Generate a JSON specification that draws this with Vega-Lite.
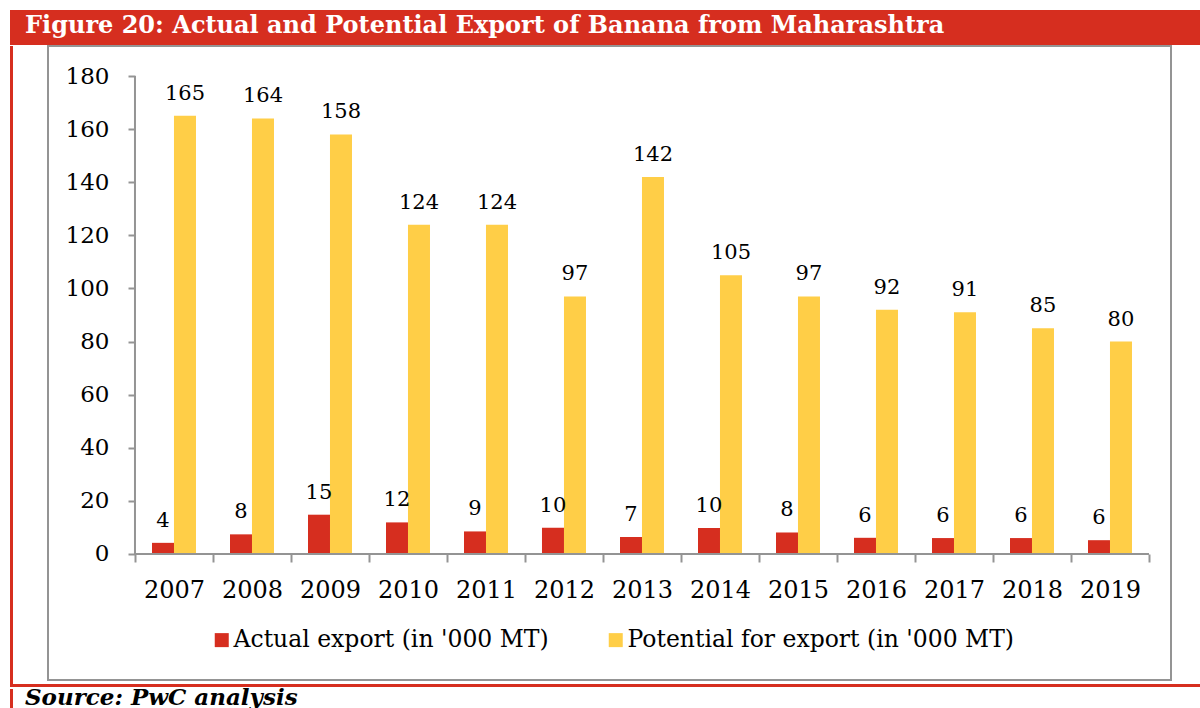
{
  "$schema": "https://vega.github.io/schema/vega-lite/v6.json",
  "padding": {"left": 10, "top": 10, "right": 0, "bottom": 0},
  "background": "white",
  "spacing": 0,
  "config": {"font": "DejaVu Serif"},
  "datasets": {
    "exports": [
      {"year": "2007", "series": "Actual export (in '000 MT)", "value": 4.2, "label": "4"},
      {"year": "2007", "series": "Potential for export (in '000 MT)", "value": 165, "label": "165"},
      {"year": "2008", "series": "Actual export (in '000 MT)", "value": 7.4, "label": "8"},
      {"year": "2008", "series": "Potential for export (in '000 MT)", "value": 164, "label": "164"},
      {"year": "2009", "series": "Actual export (in '000 MT)", "value": 14.8, "label": "15"},
      {"year": "2009", "series": "Potential for export (in '000 MT)", "value": 158, "label": "158"},
      {"year": "2010", "series": "Actual export (in '000 MT)", "value": 11.9, "label": "12"},
      {"year": "2010", "series": "Potential for export (in '000 MT)", "value": 124, "label": "124"},
      {"year": "2011", "series": "Actual export (in '000 MT)", "value": 8.5, "label": "9"},
      {"year": "2011", "series": "Potential for export (in '000 MT)", "value": 124, "label": "124"},
      {"year": "2012", "series": "Actual export (in '000 MT)", "value": 9.9, "label": "10"},
      {"year": "2012", "series": "Potential for export (in '000 MT)", "value": 97, "label": "97"},
      {"year": "2013", "series": "Actual export (in '000 MT)", "value": 6.4, "label": "7"},
      {"year": "2013", "series": "Potential for export (in '000 MT)", "value": 142, "label": "142"},
      {"year": "2014", "series": "Actual export (in '000 MT)", "value": 9.8, "label": "10"},
      {"year": "2014", "series": "Potential for export (in '000 MT)", "value": 105, "label": "105"},
      {"year": "2015", "series": "Actual export (in '000 MT)", "value": 8.1, "label": "8"},
      {"year": "2015", "series": "Potential for export (in '000 MT)", "value": 97, "label": "97"},
      {"year": "2016", "series": "Actual export (in '000 MT)", "value": 6.1, "label": "6"},
      {"year": "2016", "series": "Potential for export (in '000 MT)", "value": 92, "label": "92"},
      {"year": "2017", "series": "Actual export (in '000 MT)", "value": 6.0, "label": "6"},
      {"year": "2017", "series": "Potential for export (in '000 MT)", "value": 91, "label": "91"},
      {"year": "2018", "series": "Actual export (in '000 MT)", "value": 6.0, "label": "6"},
      {"year": "2018", "series": "Potential for export (in '000 MT)", "value": 85, "label": "85"},
      {"year": "2019", "series": "Actual export (in '000 MT)", "value": 5.2, "label": "6"},
      {"year": "2019", "series": "Potential for export (in '000 MT)", "value": 80, "label": "80"}
    ]
  },
  "vconcat": [
    {
      "width": 1190,
      "height": 35,
      "view": {"fill": "#d62e1f", "stroke": null},
      "title": {
        "text": "Figure 20: Actual and Potential Export of Banana from Maharashtra",
        "anchor": "start",
        "frame": "group",
        "orient": "top",
        "offset": -47,
        "dx": 15,
        "baseline": "alphabetic",
        "color": "white",
        "font": "DejaVu Serif",
        "fontSize": 24,
        "fontWeight": "bold"
      },
      "data": {"values": []},
      "mark": "point"
    },
    {
      "spacing": 34,
      "hconcat": [
        {
          "width": 3,
          "height": 638,
          "view": {"fill": "#d62e1f", "stroke": null},
          "data": {"values": []},
          "mark": "point"
        },
        {
          "width": 1123,
          "height": 634,
          "view": {"stroke": "#949494", "strokeWidth": 2, "fill": "white"},
          "layer": [
            {
              "data": {"name": "exports"},
              "mark": {"type": "bar"},
              "encoding": {
                "x": {
                  "field": "year",
                  "type": "ordinal",
                  "scale": {"paddingInner": 0, "paddingOuter": 0.6987, "align": 0.798},
                  "axis": {
                    "title": null,
                    "orient": "bottom",
                    "offset": -126,
                    "domain": false,
                    "grid": false,
                    "tickBand": "extent",
                    "tickSize": 8,
                    "tickColor": "#949494",
                    "tickWidth": 2,
                    "labelAngle": 0,
                    "labelFont": "DejaVu Serif",
                    "labelFontSize": 24,
                    "labelColor": "black",
                    "labelPadding": 16
                  }
                },
                "xOffset": {
                  "field": "series",
                  "type": "nominal",
                  "scale": {"paddingInner": 0, "paddingOuter": 0.7727}
                },
                "y": {
                  "field": "value",
                  "type": "quantitative",
                  "scale": {"domain": [-47.45, 191.3], "nice": false, "zero": false},
                  "axis": {
                    "title": null,
                    "offset": -87,
                    "values": [0, 20, 40, 60, 80, 100, 120, 140, 160, 180],
                    "domain": false,
                    "grid": false,
                    "tickSize": 7,
                    "tickColor": "#949494",
                    "tickWidth": 2,
                    "labelFont": "DejaVu Serif",
                    "labelFontSize": 23,
                    "labelColor": "black",
                    "labelPadding": 19
                  }
                },
                "color": {
                  "field": "series",
                  "type": "nominal",
                  "scale": {
                    "domain": ["Actual export (in '000 MT)", "Potential for export (in '000 MT)"],
                    "range": ["#d62e1f", "#ffce47"]
                  },
                  "legend": {
                    "title": null,
                    "orient": "none",
                    "legendX": 200,
                    "legendY": 618,
                    "direction": "horizontal",
                    "symbolType": "square",
                    "symbolSize": 196,
                    "symbolStrokeWidth": 0,
                    "symbolOpacity": 1,
                    "labelFont": "DejaVu Serif",
                    "labelFontSize": 23.5,
                    "labelColor": "black",
                    "labelOffset": 0,
                    "labelLimit": 500,
                    "columnPadding": 55
                  }
                }
              }
            },
            {
              "data": {"name": "exports"},
              "mark": {"type": "text", "baseline": "alphabetic", "dy": -16, "fontSize": 21, "color": "black", "font": "DejaVu Serif"},
              "encoding": {
                "x": {"field": "year", "type": "ordinal"},
                "xOffset": {"field": "series", "type": "nominal"},
                "y": {"field": "value", "type": "quantitative"},
                "text": {"field": "label"}
              }
            },
            {
              "data": {"values": [{"line": "x axis"}]},
              "mark": {"type": "rule", "color": "#949494", "strokeWidth": 2},
              "encoding": {
                "x": {"datum": "2007", "type": "ordinal", "bandPosition": 0},
                "x2": {"datum": "2019", "bandPosition": 1},
                "y": {"datum": 0, "type": "quantitative"}
              }
            },
            {
              "data": {"values": [{"line": "y axis"}]},
              "mark": {"type": "rule", "color": "#949494", "strokeWidth": 2},
              "encoding": {
                "x": {"datum": "2007", "type": "ordinal", "bandPosition": 0},
                "y": {"datum": 0, "type": "quantitative"},
                "y2": {"datum": 180}
              }
            }
          ]
        }
      ]
    },
    {
      "width": 1190,
      "height": 3,
      "view": {"fill": "#d62e1f", "stroke": null},
      "data": {"values": []},
      "mark": "point"
    },
    {
      "spacing": 0,
      "hconcat": [
        {
          "width": 3,
          "height": 22,
          "view": {"fill": "#d62e1f", "stroke": null},
          "data": {"values": []},
          "mark": "point"
        },
        {
          "width": 1187,
          "height": 22,
          "view": {"stroke": null},
          "title": {
            "text": "Source: PwC analysis",
            "anchor": "start",
            "frame": "group",
            "orient": "top",
            "offset": -39,
            "dx": 12,
            "baseline": "alphabetic",
            "color": "black",
            "font": "DejaVu Serif",
            "fontSize": 23,
            "fontWeight": "bold",
            "fontStyle": "italic"
          },
          "data": {"values": []},
          "mark": "point"
        }
      ]
    }
  ]
}
